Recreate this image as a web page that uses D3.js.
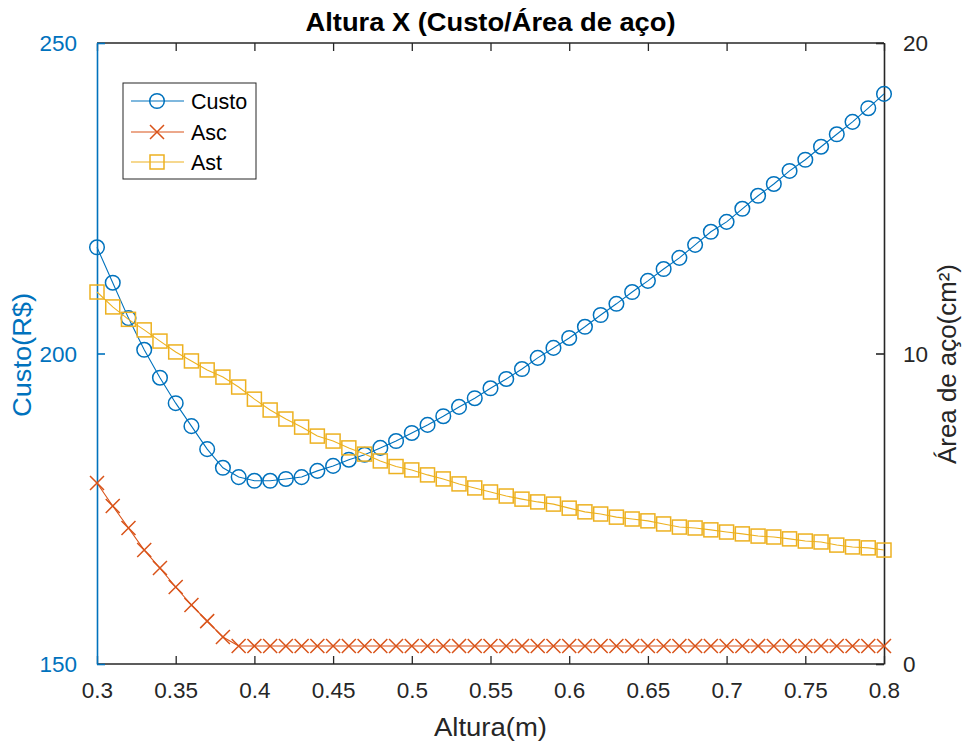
<!DOCTYPE html>
<html><head><meta charset="utf-8">
<script src="https://cdn.jsdelivr.net/npm/d3@7"></script>
<style>
html,body{margin:0;padding:0;background:#fff;}
text{font-family:"Liberation Sans",Arial,Helvetica,sans-serif;}
</style></head>
<body>
<svg id="chart" width="965" height="745"></svg>
<script>
const altura = [0.30,0.31,0.32,0.33,0.34,0.35,0.36,0.37,0.38,0.39,0.40,0.41,0.42,0.43,0.44,0.45,0.46,0.47,0.48,0.49,0.50,0.51,0.52,0.53,0.54,0.55,0.56,0.57,0.58,0.59,0.60,0.61,0.62,0.63,0.64,0.65,0.66,0.67,0.68,0.69,0.70,0.71,0.72,0.73,0.74,0.75,0.76,0.77,0.78,0.79,0.80];
const custo = [217.1,211.4,205.7,200.6,196.1,192.0,188.3,184.6,181.6,180.1,179.5,179.5,179.8,180.1,181.1,181.9,182.9,183.7,184.8,185.9,187.2,188.5,189.9,191.4,192.8,194.4,195.9,197.5,199.3,200.9,202.5,204.3,206.2,208.0,209.9,211.7,213.6,215.4,217.5,219.6,221.2,223.3,225.4,227.3,229.4,231.2,233.3,235.3,237.3,239.5,241.8];
const asc = [5.83,5.09,4.38,3.67,3.09,2.48,1.90,1.38,0.87,0.58,0.58,0.58,0.58,0.58,0.58,0.58,0.58,0.58,0.58,0.58,0.58,0.58,0.58,0.58,0.58,0.58,0.58,0.58,0.58,0.58,0.58,0.58,0.58,0.58,0.58,0.58,0.58,0.58,0.58,0.58,0.58,0.58,0.58,0.58,0.58,0.58,0.58,0.58,0.58,0.58,0.58];
const ast = [11.98,11.5,11.1,10.76,10.4,10.05,9.76,9.47,9.24,8.92,8.53,8.18,7.89,7.63,7.34,7.18,6.96,6.76,6.54,6.36,6.25,6.09,5.96,5.80,5.67,5.54,5.41,5.31,5.22,5.15,5.02,4.90,4.83,4.73,4.67,4.61,4.51,4.41,4.38,4.32,4.25,4.19,4.12,4.09,4.03,3.96,3.93,3.83,3.77,3.74,3.67];
const xTicks = [0.3,0.35,0.4,0.45,0.5,0.55,0.6,0.65,0.7,0.75,0.8];
const xTickLabels = ["0.3","0.35","0.4","0.45","0.5","0.55","0.6","0.65","0.7","0.75","0.8"];
const leftTicks = [150,200,250];
const rightTicks = [0,10,20];
const seriesNames = ["Custo","Asc","Ast"];
const colors = ["#0072BD","#D95319","#EDB120"];

const L=97,R=884,T=43,B=664;
const svg = d3.select("#chart");
const x = d3.scaleLinear().domain([0.3,0.8]).range([L,R]);
const yL = d3.scaleLinear().domain([150,250]).range([B,T]);
const yR = d3.scaleLinear().domain([0,20]).range([B,T]);
const axisDark = "#262626";

svg.append("line").attr("x1",L).attr("x2",R).attr("y1",B).attr("y2",B).attr("stroke",axisDark).attr("stroke-width",1.3);
svg.append("line").attr("x1",L).attr("x2",R).attr("y1",T).attr("y2",T).attr("stroke",axisDark).attr("stroke-width",1.3);

const xb = svg.append("g").attr("transform",`translate(0,${B})`)
  .call(d3.axisBottom(x).tickValues(xTicks).tickFormat((d,i)=>xTickLabels[i]).tickSizeInner(-8).tickSizeOuter(0).tickPadding(18));
xb.select(".domain").remove();
xb.selectAll("line").attr("stroke",axisDark).attr("stroke-width",1.3);
xb.selectAll("text").attr("font-size",22.5).attr("fill",axisDark).attr("dy","0.71em");
const xt = svg.append("g").attr("transform",`translate(0,${T})`)
  .call(d3.axisTop(x).tickValues(xTicks).tickFormat("").tickSizeInner(-8).tickSizeOuter(0));
xt.select(".domain").remove();
xt.selectAll("line").attr("stroke",axisDark).attr("stroke-width",1.3);

const gl = svg.append("g").attr("transform",`translate(${L},0)`)
  .call(d3.axisLeft(yL).tickValues(leftTicks).tickSizeInner(-8).tickSizeOuter(0).tickPadding(20));
gl.select(".domain").attr("stroke",colors[0]).attr("stroke-width",1.6);
gl.selectAll("line").attr("stroke",colors[0]).attr("stroke-width",1.6);
gl.selectAll("text").attr("font-size",22.5).attr("fill",colors[0]).attr("dy","0.35em");

const gr = svg.append("g").attr("transform",`translate(${R},0)`)
  .call(d3.axisRight(yR).tickValues(rightTicks).tickSizeInner(-8).tickSizeOuter(0).tickPadding(19));
gr.select(".domain").attr("stroke",axisDark).attr("stroke-width",1.6);
gr.selectAll("line").attr("stroke",axisDark).attr("stroke-width",1.6);
gr.selectAll("text").attr("font-size",22.5).attr("fill",axisDark).attr("dy","0.35em");

function circle(g,cx,cy,c){g.append("circle").attr("cx",cx).attr("cy",cy).attr("r",7.3).attr("fill","none").attr("stroke",c).attr("stroke-width",1.5);}
function cross(g,cx,cy,c){const s=7;g.append("path").attr("d",`M${cx-s},${cy-s}L${cx+s},${cy+s}M${cx-s},${cy+s}L${cx+s},${cy-s}`).attr("stroke",c).attr("stroke-width",1.5).attr("fill","none");}
function square(g,cx,cy,c){const s=7;g.append("rect").attr("x",cx-s).attr("y",cy-s).attr("width",2*s).attr("height",2*s).attr("fill","none").attr("stroke",c).attr("stroke-width",1.5);}

const idx = d3.range(altura.length);
function drawSeries(vals, yS, col, mk){
  const g = svg.append("g");
  g.append("path").datum(idx)
    .attr("d", d3.line().x(i=>x(altura[i])).y(i=>yS(vals[i])))
    .attr("fill","none").attr("stroke",col).attr("stroke-width",1.1);
  idx.forEach(i=>mk(g,x(altura[i]),yS(vals[i]),col));
}
drawSeries(custo,yL,colors[0],circle);
drawSeries(asc,yR,colors[1],cross);
drawSeries(ast,yR,colors[2],square);

svg.append("text").attr("x",(L+R)/2).attr("y",31).attr("text-anchor","middle")
  .attr("font-size",25).attr("font-weight","bold").attr("fill","#000")
  .attr("textLength",370).attr("lengthAdjust","spacingAndGlyphs")
  .text("Altura X (Custo/Área de aço)");
svg.append("text").attr("x",(L+R)/2).attr("y",736).attr("text-anchor","middle")
  .attr("font-size",25).attr("fill",axisDark)
  .attr("textLength",113).attr("lengthAdjust","spacingAndGlyphs")
  .text("Altura(m)");
svg.append("text").attr("transform","translate(31,355) rotate(-90)").attr("text-anchor","middle")
  .attr("font-size",25).attr("fill",colors[0])
  .attr("textLength",124).attr("lengthAdjust","spacingAndGlyphs")
  .text("Custo(R$)");
svg.append("text").attr("transform","translate(956,364) rotate(-90)").attr("text-anchor","middle")
  .attr("font-size",25).attr("fill",axisDark)
  .attr("textLength",200).attr("lengthAdjust","spacingAndGlyphs")
  .text("Área de aço(cm²)");

const lg = svg.append("g");
lg.append("rect").attr("x",123).attr("y",83).attr("width",133).attr("height",96)
  .attr("fill","#fff").attr("stroke","#262626").attr("stroke-width",1);
const rowsY=[101,132,162];
const markers=[circle,cross,square];
seriesNames.forEach((n,i)=>{
  lg.append("line").attr("x1",131).attr("x2",184).attr("y1",rowsY[i]).attr("y2",rowsY[i]).attr("stroke",colors[i]).attr("stroke-width",1.1);
  markers[i](lg,157,rowsY[i],colors[i]);
  lg.append("text").attr("x",191).attr("y",rowsY[i]).attr("dy","0.35em").attr("font-size",21.5).attr("fill","#000").text(n);
});
</script>
</body></html>
